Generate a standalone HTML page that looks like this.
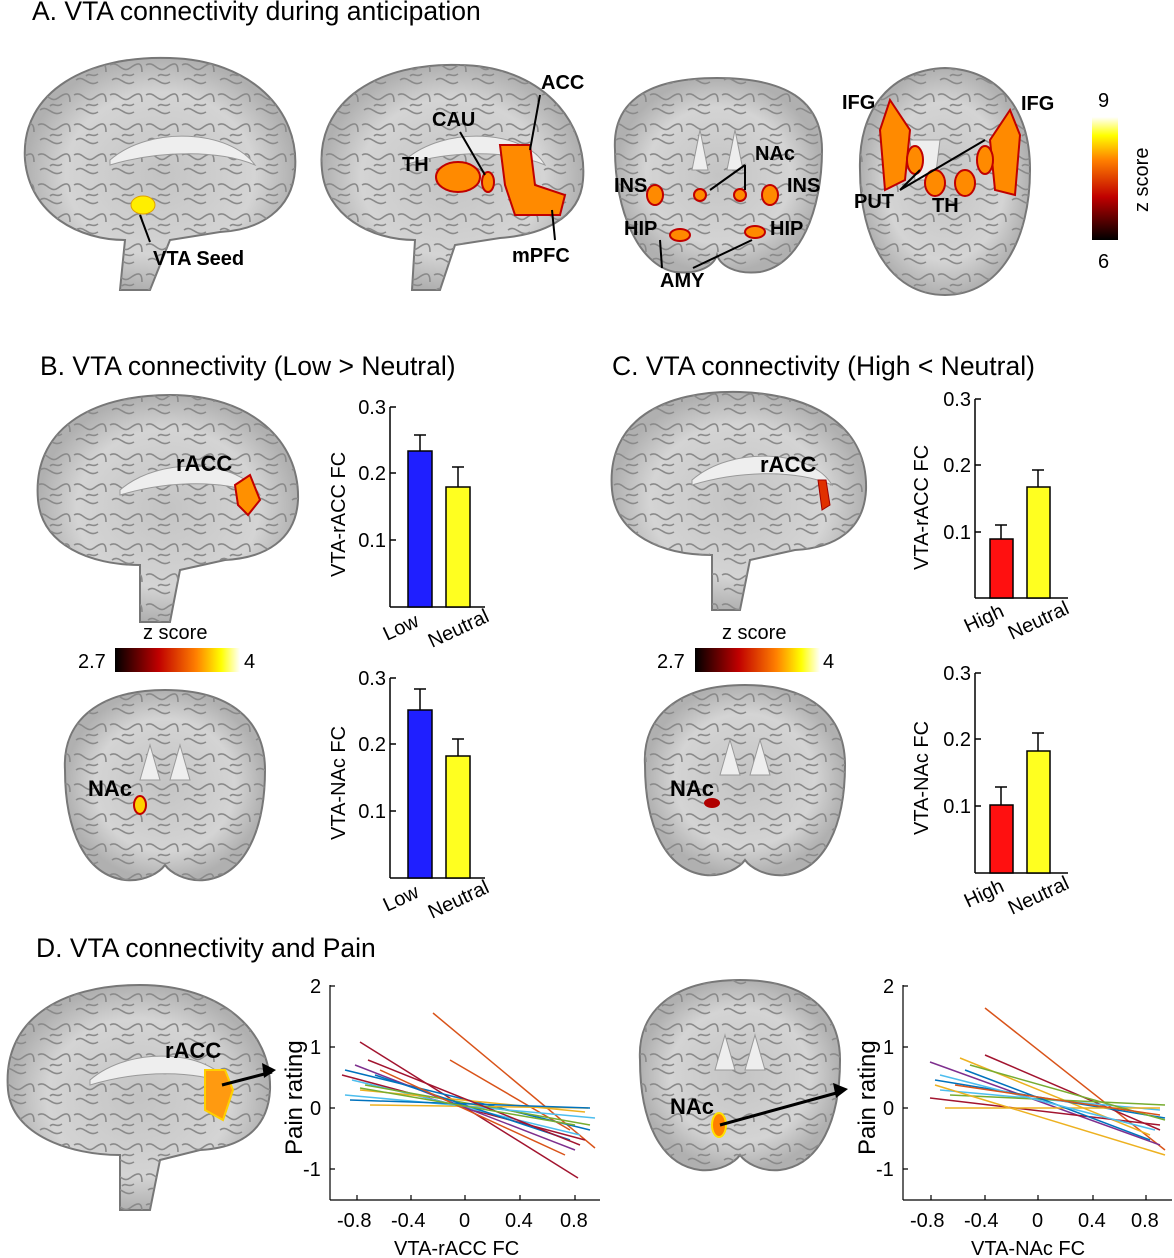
<!DOCTYPE html>
<html><head><meta charset="utf-8"><style>
body{margin:0;background:#fff}
svg{display:block;font-family:"Liberation Sans",Arial,sans-serif}
</style></head><body>
<svg width="1174" height="1258" viewBox="0 0 1174 1258" xmlns="http://www.w3.org/2000/svg">
<defs>
<linearGradient id="gv" x1="0" y1="1" x2="0" y2="0"><stop offset="0" stop-color="#000"/><stop offset="0.35" stop-color="#c00000"/><stop offset="0.65" stop-color="#ff8000"/><stop offset="0.85" stop-color="#ffff00"/><stop offset="1" stop-color="#ffffff"/></linearGradient>
<linearGradient id="gh" x1="0" y1="0" x2="1" y2="0"><stop offset="0" stop-color="#000"/><stop offset="0.35" stop-color="#c00000"/><stop offset="0.65" stop-color="#ff8000"/><stop offset="0.85" stop-color="#ffff00"/><stop offset="1" stop-color="#ffffff"/></linearGradient>
<radialGradient id="br"><stop offset="0" stop-color="#c4c4c4"/><stop offset="0.7" stop-color="#d4d4d4"/><stop offset="1" stop-color="#b0b0b0"/></radialGradient>
<pattern id="sul" width="36" height="30" patternUnits="userSpaceOnUse">
<path d="M2,5 C10,0 14,14 22,8 S34,2 34,12 M4,20 C12,14 16,28 26,22 M14,16 C18,12 20,18 26,14" stroke="#8a8a8a" stroke-width="1.6" fill="none"/>
</pattern>
</defs>
<g font-size="26.5" fill="#000">
<text x="32" y="20">A. VTA connectivity during anticipation</text>
<text x="40" y="375">B. VTA connectivity (Low &gt; Neutral)</text>
<text x="612" y="375">C. VTA connectivity (High &lt; Neutral)</text>
<text x="36" y="957">D. VTA connectivity and Pain</text>
</g>
<g id="brains">
<g stroke="#777" stroke-width="2" fill="url(#br)">
<path id="b1" d="M25,160 C20,90 90,55 170,58 C250,60 300,110 295,170 C292,210 260,230 220,232 L170,240 L150,290 L120,290 L125,240 C80,240 30,215 25,160Z"/>
<path id="b2" d="M322,170 C315,100 380,62 460,65 C540,66 588,120 583,180 C580,220 540,235 500,238 L455,245 L440,290 L412,290 L415,240 C370,240 326,215 322,170Z"/>
<path id="b3" d="M615,150 C612,100 650,78 717,78 C785,78 822,100 822,150 C822,210 800,265 760,272 C735,275 720,265 717,255 C714,265 700,275 675,272 C638,265 615,210 615,150Z"/>
<path id="b4" d="M860,170 C858,110 890,70 945,68 C1000,70 1030,110 1030,170 C1030,240 1000,295 945,295 C890,295 860,240 860,170Z"/>
<path id="b5" d="M38,500 C32,430 90,395 170,395 C250,395 300,440 298,500 C296,540 265,558 225,560 L180,570 L170,622 L140,622 L140,565 C90,565 42,545 38,500Z"/>
<path id="b6" d="M612,490 C606,420 664,390 740,392 C820,395 868,430 866,490 C864,530 835,548 795,550 L750,560 L740,610 L712,610 L712,555 C662,555 616,535 612,490Z"/>
<path id="b7" d="M65,770 C62,720 100,690 165,690 C230,690 265,720 265,770 C265,830 245,875 205,880 C185,882 170,872 165,865 C160,872 145,882 125,880 C85,875 65,830 65,770Z"/>
<path id="b8" d="M645,765 C642,715 680,685 745,685 C810,685 845,715 845,765 C845,825 825,870 785,875 C765,877 750,867 745,860 C740,867 725,877 705,875 C665,870 645,825 645,765Z"/>
<path id="b9" d="M8,1090 C2,1020 60,985 140,985 C220,985 272,1030 270,1090 C268,1130 240,1148 200,1150 L160,1160 L150,1210 L120,1210 L120,1155 C70,1155 12,1135 8,1090Z"/>
<path id="b10" d="M640,1060 C637,1010 675,980 740,980 C805,980 840,1010 840,1060 C840,1120 820,1165 780,1170 C760,1172 745,1162 740,1155 C735,1162 720,1172 700,1170 C660,1165 640,1120 640,1060Z"/>
</g>
<g fill="url(#sul)" stroke="none">
<use href="#b1"/><use href="#b2"/><use href="#b3"/><use href="#b4"/><use href="#b5"/><use href="#b6"/><use href="#b7"/><use href="#b8"/><use href="#b9"/><use href="#b10"/>
</g>
</g>
<g fill="#eee" stroke="#999">
<path d="M110,160 C150,125 230,130 255,165 C220,150 160,150 110,165Z"/>
<path d="M405,160 C445,125 525,130 545,165 C510,150 450,150 405,165Z"/>
<path d="M700,130 l8,40 l-16,0Z M735,130 l8,40 l-16,0Z"/>
<path d="M910,140 l30,0 l-5,40 l-20,0Z"/>
<path d="M120,490 C160,455 240,460 260,495 C225,480 170,480 120,495Z"/>
<path d="M692,480 C732,445 812,450 832,485 C797,470 742,470 692,485Z"/>
<path d="M90,1080 C130,1045 210,1050 230,1085 C195,1070 140,1070 90,1085Z"/>
<path d="M150,745 l10,35 l-20,0Z M180,745 l10,35 l-20,0Z M730,740 l10,35 l-20,0Z M760,740 l10,35 l-20,0Z M725,1035 l10,35 l-20,0Z M755,1035 l10,35 l-20,0Z"/>
</g>
<ellipse cx="143" cy="205" rx="12" ry="9" fill="#ffee00" stroke="#e0a000"/>
<g fill="#ff8a00" stroke="#c00000" stroke-width="2">
<path d="M500,145 l30,0 l5,40 l30,10 l-5,20 l-45,0 l-10,-30Z"/>
<ellipse cx="458" cy="177" rx="22" ry="15"/><ellipse cx="488" cy="182" rx="6" ry="10"/>
<ellipse cx="655" cy="195" rx="8" ry="10"/><ellipse cx="770" cy="195" rx="8" ry="10"/>
<ellipse cx="700" cy="195" rx="6" ry="6"/><ellipse cx="740" cy="195" rx="6" ry="6"/>
<ellipse cx="680" cy="235" rx="10" ry="6"/><ellipse cx="755" cy="232" rx="10" ry="6"/>
<path d="M890,100 l20,30 l-5,50 l-20,10 l-5,-60Z M1010,110 l-20,30 l5,50 l20,5 l5,-60Z"/>
<ellipse cx="935" cy="183" rx="10" ry="13"/><ellipse cx="965" cy="183" rx="10" ry="13"/>
<ellipse cx="915" cy="160" rx="8" ry="14"/><ellipse cx="985" cy="160" rx="8" ry="14"/>
</g>
<g font-size="20" font-weight="bold" fill="#000">
<text x="153" y="265">VTA Seed</text>
<text x="541" y="89">ACC</text><text x="432" y="126">CAU</text><text x="402" y="171">TH</text><text x="512" y="262">mPFC</text>
<text x="755" y="160">NAc</text><text x="614" y="192">INS</text><text x="787" y="192">INS</text>
<text x="624" y="235">HIP</text><text x="770" y="235">HIP</text><text x="660" y="287">AMY</text>
<text x="842" y="109">IFG</text><text x="1021" y="110">IFG</text><text x="854" y="208">PUT</text><text x="932" y="212">TH</text>
</g>
<g stroke="#000" stroke-width="2">
<line x1="150" y1="242" x2="140" y2="215"/><line x1="540" y1="95" x2="530" y2="150"/><line x1="460" y1="132" x2="485" y2="175"/>
<line x1="555" y1="240" x2="552" y2="210"/><line x1="745" y1="165" x2="710" y2="190"/><line x1="745" y1="165" x2="745" y2="190"/>
<line x1="693" y1="268" x2="752" y2="240"/><line x1="662" y1="268" x2="660" y2="240"/>
<line x1="900" y1="190" x2="985" y2="140"/><line x1="900" y1="190" x2="920" y2="170"/>
</g>
<rect x="1092" y="117" width="26" height="123" fill="url(#gv)"/>
<text x="1098" y="107" font-size="20">9</text><text x="1098" y="268" font-size="20">6</text>
<text transform="translate(1148,212) rotate(-90)" font-size="20">z score</text>
<path d="M235,485 l15,-10 l10,25 l-12,15 l-10,-10Z" fill="#ff9000" stroke="#c00000" stroke-width="2"/>
<path d="M818,480 l8,0 l4,25 l-8,5Z" fill="#e03000" stroke="#a00000"/>
<ellipse cx="140" cy="805" rx="6" ry="9" fill="#ffd000" stroke="#c00000" stroke-width="2"/>
<ellipse cx="712" cy="803" rx="8" ry="5" fill="#b00000"/>
<path d="M205,1070 l20,0 l8,20 l-10,30 l-18,-10Z" fill="#ff9a10" stroke="#ffd000" stroke-width="2"/>
<ellipse cx="719" cy="1125" rx="7" ry="12" fill="#ff8000" stroke="#ffe000" stroke-width="2"/>
<g font-size="22" font-weight="bold">
<text x="176" y="471">rACC</text><text x="760" y="472">rACC</text><text x="88" y="796">NAc</text><text x="670" y="796">NAc</text>
<text x="165" y="1058">rACC</text><text x="670" y="1114">NAc</text>
</g>
<g stroke="#000" stroke-width="3"><line x1="222" y1="1085" x2="272" y2="1072"/><line x1="720" y1="1125" x2="840" y2="1092"/></g>
<path d="M276,1070 l-14,-7 l2,15Z M848,1089 l-15,-6 l3,15Z" fill="#000"/>
<rect x="115" y="648" width="125" height="24" fill="url(#gh)"/>
<rect x="695" y="648" width="125" height="24" fill="url(#gh)"/>
<g font-size="20">
<text x="143" y="639">z score</text><text x="78" y="668">2.7</text><text x="244" y="668">4</text>
<text x="722" y="639">z score</text><text x="657" y="668">2.7</text><text x="823" y="668">4</text>
</g>
<g font-size="20" stroke-width="1.5">
<g stroke="#000"><line x1="390" y1="407" x2="390" y2="607"/><line x1="390" y1="407" x2="396" y2="407"/><line x1="390" y1="473" x2="396" y2="473"/><line x1="390" y1="540" x2="396" y2="540"/><line x1="390" y1="607" x2="485" y2="607"/></g>
<rect x="408" y="451" width="24" height="156" fill="#1f1fff" stroke="#000"/><rect x="446" y="487" width="24" height="120" fill="#ffff20" stroke="#000"/>
<path d="M420,451V435M414,435h12M458,487V467M452,467h12" stroke="#000"/>
<g text-anchor="end"><text x="386" y="414">0.3</text><text x="386" y="480">0.2</text><text x="386" y="547">0.1</text></g>
<text transform="translate(345,577) rotate(-90)">VTA-rACC FC</text>
<text transform="translate(387,641) rotate(-25)">Low</text><text transform="translate(432,648) rotate(-25)">Neutral</text>
<g stroke="#000"><line x1="390" y1="678" x2="390" y2="878"/><line x1="390" y1="678" x2="396" y2="678"/><line x1="390" y1="744" x2="396" y2="744"/><line x1="390" y1="811" x2="396" y2="811"/><line x1="390" y1="878" x2="485" y2="878"/></g>
<rect x="408" y="710" width="24" height="168" fill="#1f1fff" stroke="#000"/><rect x="446" y="756" width="24" height="122" fill="#ffff20" stroke="#000"/>
<path d="M420,710V689M414,689h12M458,756V739M452,739h12" stroke="#000"/>
<g text-anchor="end"><text x="386" y="685">0.3</text><text x="386" y="751">0.2</text><text x="386" y="818">0.1</text></g>
<text transform="translate(345,840) rotate(-90)">VTA-NAc FC</text>
<text transform="translate(387,912) rotate(-25)">Low</text><text transform="translate(432,919) rotate(-25)">Neutral</text>
<g stroke="#000"><line x1="975" y1="399" x2="975" y2="598"/><line x1="975" y1="399" x2="981" y2="399"/><line x1="975" y1="465" x2="981" y2="465"/><line x1="975" y1="532" x2="981" y2="532"/><line x1="975" y1="598" x2="1068" y2="598"/></g>
<rect x="990" y="539" width="23" height="59" fill="#ff1010" stroke="#000"/><rect x="1027" y="487" width="23" height="111" fill="#ffff20" stroke="#000"/>
<path d="M1001,539V525M995,525h12M1038,487V470M1032,470h12" stroke="#000"/>
<g text-anchor="end"><text x="971" y="406">0.3</text><text x="971" y="472">0.2</text><text x="971" y="539">0.1</text></g>
<text transform="translate(928,570) rotate(-90)">VTA-rACC FC</text>
<text transform="translate(968,633) rotate(-25)">High</text><text transform="translate(1012,640) rotate(-25)">Neutral</text>
<g stroke="#000"><line x1="975" y1="673" x2="975" y2="873"/><line x1="975" y1="673" x2="981" y2="673"/><line x1="975" y1="739" x2="981" y2="739"/><line x1="975" y1="806" x2="981" y2="806"/><line x1="975" y1="873" x2="1068" y2="873"/></g>
<rect x="990" y="805" width="23" height="68" fill="#ff1010" stroke="#000"/><rect x="1027" y="751" width="23" height="122" fill="#ffff20" stroke="#000"/>
<path d="M1001,805V787M995,787h12M1038,751V733M1032,733h12" stroke="#000"/>
<g text-anchor="end"><text x="971" y="680">0.3</text><text x="971" y="746">0.2</text><text x="971" y="813">0.1</text></g>
<text transform="translate(928,835) rotate(-90)">VTA-NAc FC</text>
<text transform="translate(968,908) rotate(-25)">High</text><text transform="translate(1012,915) rotate(-25)">Neutral</text>
</g>
<g stroke="#000" stroke-width="1.2">
<line x1="330" y1="985" x2="330" y2="1200"/><line x1="330" y1="1200" x2="600" y2="1200"/>
<path d="M330,986h5M330,1047h5M330,1108h5M330,1169h5M357,1200v-5M411,1200v-5M465,1200v-5M520,1200v-5M575,1200v-5"/>
<line x1="903" y1="985" x2="903" y2="1200"/><line x1="903" y1="1200" x2="1172" y2="1200"/>
<path d="M903,986h5M903,1047h5M903,1108h5M903,1169h5M931,1200v-5M985,1200v-5M1038,1200v-5M1093,1200v-5M1146,1200v-5"/>
</g>
<g font-size="20">
<text x="310" y="993">2</text><text x="310" y="1054">1</text><text x="310" y="1115">0</text><text x="303" y="1176">-1</text>
<text x="337" y="1227">-0.8</text><text x="391" y="1227">-0.4</text><text x="459" y="1227">0</text><text x="505" y="1227">0.4</text><text x="560" y="1227">0.8</text>
<text x="394" y="1255">VTA-rACC FC</text>
<text transform="translate(302,1155) rotate(-90)" font-size="24">Pain rating</text>
<text x="883" y="993">2</text><text x="883" y="1054">1</text><text x="883" y="1115">0</text><text x="876" y="1176">-1</text>
<text x="910" y="1227">-0.8</text><text x="964" y="1227">-0.4</text><text x="1032" y="1227">0</text><text x="1078" y="1227">0.4</text><text x="1131" y="1227">0.8</text>
<text x="971" y="1255">VTA-NAc FC</text>
<text transform="translate(875,1155) rotate(-90)" font-size="24">Pain rating</text>
</g>
<g stroke-width="1.5" fill="none">
<line x1="433" y1="1013" x2="595" y2="1148" stroke="#D95319"/>
<line x1="450" y1="1060" x2="570" y2="1130" stroke="#D95319"/>
<line x1="360" y1="1042" x2="578" y2="1178" stroke="#A2142F"/>
<line x1="342" y1="1075" x2="585" y2="1140" stroke="#A2142F"/>
<line x1="345" y1="1070" x2="590" y2="1130" stroke="#0072BD"/>
<line x1="352" y1="1080" x2="580" y2="1135" stroke="#4DBEEE"/>
<line x1="360" y1="1090" x2="585" y2="1112" stroke="#EDB120"/>
<line x1="370" y1="1105" x2="588" y2="1108" stroke="#EDB120"/>
<line x1="355" y1="1065" x2="575" y2="1150" stroke="#7E2F8E"/>
<line x1="365" y1="1085" x2="590" y2="1125" stroke="#77AC30"/>
<line x1="375" y1="1075" x2="570" y2="1140" stroke="#0072BD"/>
<line x1="345" y1="1095" x2="595" y2="1118" stroke="#4DBEEE"/>
<line x1="380" y1="1070" x2="565" y2="1155" stroke="#D95319"/>
<line x1="350" y1="1100" x2="590" y2="1108" stroke="#0072BD"/>
<line x1="368" y1="1060" x2="580" y2="1145" stroke="#A2142F"/>
<line x1="360" y1="1088" x2="575" y2="1125" stroke="#77AC30"/>
<line x1="985" y1="1008" x2="1165" y2="1150" stroke="#D95319"/>
<line x1="930" y1="1062" x2="1160" y2="1145" stroke="#7E2F8E"/>
<line x1="985" y1="1055" x2="1160" y2="1130" stroke="#A2142F"/>
<line x1="960" y1="1058" x2="1150" y2="1135" stroke="#EDB120"/>
<line x1="935" y1="1080" x2="1165" y2="1118" stroke="#0072BD"/>
<line x1="940" y1="1090" x2="1160" y2="1110" stroke="#4DBEEE"/>
<line x1="950" y1="1095" x2="1165" y2="1105" stroke="#77AC30"/>
<line x1="930" y1="1098" x2="1160" y2="1125" stroke="#A2142F"/>
<line x1="945" y1="1108" x2="1160" y2="1108" stroke="#EDB120"/>
<line x1="965" y1="1070" x2="1150" y2="1140" stroke="#0072BD"/>
<line x1="940" y1="1075" x2="1155" y2="1130" stroke="#4DBEEE"/>
<line x1="970" y1="1065" x2="1165" y2="1120" stroke="#77AC30"/>
<line x1="935" y1="1085" x2="1165" y2="1155" stroke="#EDB120"/>
<line x1="955" y1="1085" x2="1160" y2="1115" stroke="#D95319"/>
</g>
</svg>
</body></html>
